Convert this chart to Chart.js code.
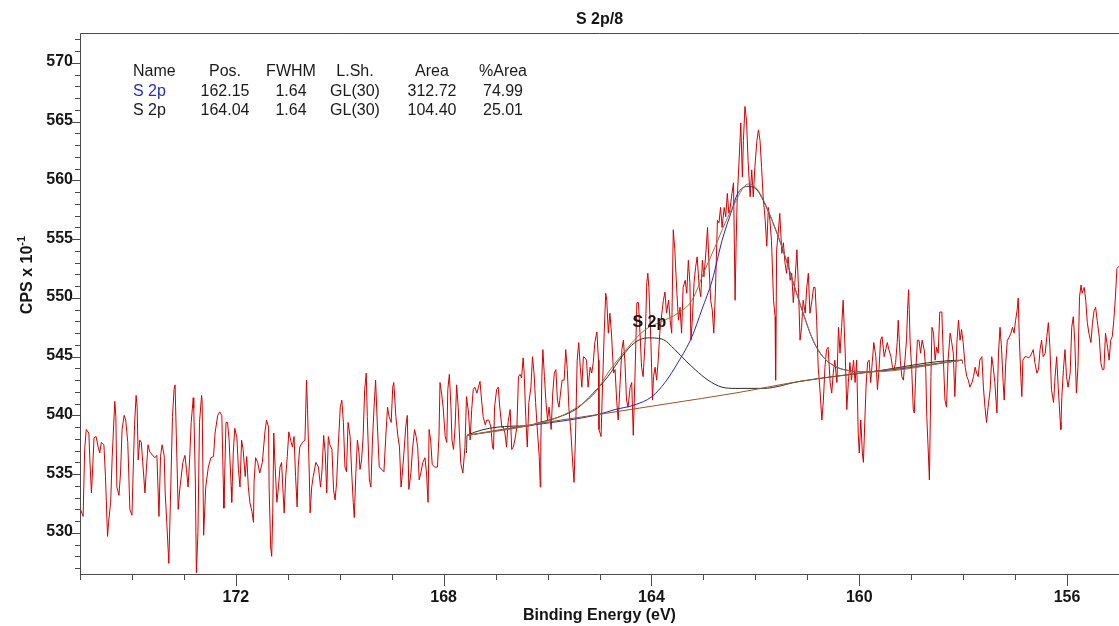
<!DOCTYPE html>
<html>
<head>
<meta charset="utf-8">
<title>S 2p/8</title>
<script src="https://cdn.jsdelivr.net/npm/chart.js@4.4.1/dist/chart.umd.min.js"></script>
<style>
  html, body { margin: 0; padding: 0; background: #fff; }
  #wrap { position: relative; width: 1119px; height: 626px; overflow: hidden; }
  #xps { display: block; }
  .cell { position: absolute; font: 16px "Liberation Sans", Arial, sans-serif; color: #1a1a1a;
          white-space: nowrap; line-height: 1; transform: translate(-50%, -50%); }
  .cell.first { transform: translate(0, -50%); }
  .cell.blue { color: #2b2bb8; }
</style>
</head>
<body>
<div id="wrap">
  <canvas id="xps" width="1119" height="626"></canvas>
  <div id="peakTable"></div>
</div>
<script>
// ── Data ───────────────────────────────────────────────────────────────────

// raw spectrum (eV, CPS x 10^-1)
const bindingEnergy = [
  174.99,174.94,174.91,174.88,174.83,174.81,174.78,174.76,174.73,174.69,
  174.65,174.62,174.59,174.54,174.51,174.47,174.45,174.41,174.38,174.33,
  174.31,174.29,174.25,174.22,174.19,174.15,174.12,174.08,174.04,174.00,
  173.97,173.95,173.92,173.90,173.88,173.85,173.82,173.75,173.72,173.69,
  173.66,173.56,173.52,173.48,173.45,173.42,173.38,173.36,173.33,173.29,
  173.26,173.22,173.19,173.17,173.15,173.11,173.08,173.02,172.98,172.95,
  172.92,172.89,172.86,172.82,172.81,172.78,172.76,172.73,172.70,172.66,
  172.65,172.62,172.58,
  172.53,172.48,172.43,172.40,172.35,172.31,172.27,172.24,172.23,172.19,
  172.16,172.13,172.09,172.08,172.05,172.02,171.98,171.95,171.92,171.89,
  171.86,171.82,171.79,171.76,171.73,171.69,171.66,171.65,171.62,171.58,
  171.54,171.49,171.44,171.41,171.37,171.36,171.33,171.31,171.29,171.27,
  171.25,171.21,171.18,171.15,171.12,171.09,171.07,171.04,171.01,170.98,
  170.94,170.91,170.88,170.85,170.82,170.80,170.77,170.72,170.67,170.64,
  170.62,170.59,170.57,170.54,170.51,170.46,170.41,170.37,170.34,170.31,
  170.28,170.25,170.22,170.19,
  170.15,170.12,170.09,170.06,170.03,169.99,169.96,169.93,169.90,169.87,
  169.84,169.80,169.77,169.74,169.72,169.69,169.66,169.63,169.61,169.58,
  169.55,169.52,169.49,169.47,169.43,169.40,169.37,169.34,169.31,169.28,
  169.24,169.19,169.15,169.11,169.08,169.05,169.01,168.98,168.96,168.92,
  168.88,168.85,168.82,168.80,168.76,168.73,168.70,168.67,168.63,168.60,
  168.56,168.53,168.50,168.47,168.44,168.40,168.36,168.33,168.30,168.28,
  168.25,168.22,168.17,168.12,168.09,168.07,168.04,168.01,167.97,167.94,
  167.92,167.89,167.86,167.84,167.81,167.78,167.75,167.72,
  167.67,167.63,167.59,167.56,167.52,167.49,167.46,167.43,167.40,167.36,
  167.33,167.30,167.27,167.24,167.20,167.17,167.13,167.09,167.06,167.04,
  167.02,166.98,166.95,166.92,166.88,166.85,166.82,166.79,166.76,166.72,
  166.69,166.66,166.63,166.59,166.56,166.53,166.50,166.47,166.45,166.42,
  166.39,166.36,166.32,166.29,166.26,166.23,166.20,166.16,166.14,166.13,
  166.11,166.09,166.06,166.03,166.00,165.97,165.93,165.90,165.87,165.84,
  165.81,165.78,165.75,165.72,165.68,165.65,165.62,165.59,165.55,165.52,
  165.49,165.46,165.43,165.40,165.37,165.34,165.31,165.28,165.25,165.22,
  165.18,165.15,165.12,165.09,165.05,165.02,
  165.01,164.97,164.95,164.91,164.88,164.86,164.83,164.80,164.77,164.73,
  164.70,164.67,164.64,164.61,164.57,164.54,164.51,164.48,164.45,164.41,
  164.38,164.35,164.32,164.28,164.25,164.22,164.19,164.16,164.12,164.09,
  164.07,164.05,164.01,163.98,163.96,163.93,163.90,163.87,163.84,163.80,
  163.77,163.74,163.71,163.67,163.64,163.61,163.58,163.55,163.51,163.48,
  163.45,163.42,163.39,163.35,163.32,163.29,163.26,163.24,163.21,163.18,
  163.15,163.12,163.08,163.05,163.02,162.99,162.96,162.92,162.89,162.86,
  162.83,162.80,162.77,162.73,162.70,162.67,162.64,162.60,162.57,162.54,
  162.51,
  162.49,162.45,162.42,162.39,162.37,162.35,162.31,162.28,162.25,162.23,
  162.20,162.17,162.14,162.10,162.07,162.04,162.01,161.97,161.94,161.91,
  161.88,161.85,161.81,161.78,161.75,161.72,161.69,161.65,161.62,161.61,
  161.59,161.56,161.53,161.49,161.46,161.43,161.40,161.37,161.33,161.30,
  161.27,161.24,161.20,161.17,161.14,161.11,161.08,161.04,161.01,160.98,
  160.95,160.91,160.88,160.85,160.82,160.79,160.76,160.72,160.69,160.66,
  160.63,160.60,160.56,160.53,160.50,160.47,160.43,160.40,160.37,160.34,
  160.31,160.27,160.24,160.21,160.18,160.15,160.11,160.08,160.05,160.02,
  160.00,159.97,159.94,159.92,
  159.87,159.84,159.81,159.78,159.75,159.72,159.68,159.65,159.62,159.59,
  159.56,159.52,159.49,159.46,159.43,159.39,159.36,159.33,159.30,159.27,
  159.25,159.21,159.18,159.15,159.12,159.09,159.07,159.05,159.02,158.99,
  158.96,158.94,158.91,158.88,158.85,158.82,158.79,158.75,158.72,158.70,
  158.67,158.65,158.62,158.60,158.57,158.54,158.51,158.48,158.45,158.41,
  158.38,158.35,158.32,158.29,158.25,158.22,158.19,158.16,158.12,158.09,
  158.06,158.03,158.00,157.96,157.93,157.90,157.87,157.83,157.80,157.77,
  157.74,157.71,157.68,157.64,157.61,157.58,157.55,157.52,157.48,157.45,
  157.42,157.39,
  157.35,157.32,157.29,157.26,157.23,157.21,157.18,157.15,157.12,157.08,
  157.05,157.02,156.99,156.96,156.94,156.92,156.89,156.87,156.85,156.81,
  156.78,156.75,156.71,156.68,156.65,156.62,156.58,156.55,156.52,156.49,
  156.46,156.42,156.39,156.36,156.33,156.30,156.26,156.23,156.20,156.17,
  156.13,156.12,156.10,156.07,156.04,156.01,155.98,155.94,155.91,155.88,
  155.85,155.82,155.79,155.76,155.73,155.71,155.67,155.64,155.61,155.58,
  155.54,155.51,155.48,155.45,155.42,155.38,155.35,155.32,155.29,155.26,
  155.22,155.19,155.16,155.13,155.10,155.07,155.04,155.00,
];
const counts = [
  532.0,531.4,537.1,538.8,538.5,536.2,533.4,535.1,538.1,538.2,
  537.3,536.8,537.7,537.5,534.8,529.7,530.9,532.6,536.5,541.2,
  539.9,533.9,533.2,535.1,538.8,540.0,539.6,537.7,532.0,531.5,
  536.2,539.2,541.7,540.7,536.2,537.9,537.7,533.4,535.6,537.5,
  536.9,536.4,536.6,531.4,536.5,537.5,536.6,533.4,530.9,527.4,
  532.6,539.9,542.2,542.6,539.0,532.0,533.7,536.0,536.6,535.4,
  533.9,536.2,539.4,541.5,540.6,534.5,526.6,530.0,539.4,541.7,
  541.3,529.8,533.9,
  535.6,536.4,536.5,538.5,540.0,540.3,540.0,533.9,532.1,539.4,
  539.4,537.9,533.9,532.6,536.8,538.9,538.1,535.4,533.9,537.9,
  537.1,534.8,536.5,533.9,532.6,531.8,530.9,534.3,536.4,536.0,
  535.1,536.0,538.6,539.6,539.0,533.9,528.8,528.0,531.7,538.5,
  536.2,532.6,533.9,535.6,536.0,533.4,531.7,534.8,536.5,538.6,
  537.8,537.3,538.2,534.8,532.2,535.6,537.3,537.7,537.9,543.0,
  540.5,535.6,531.7,533.9,534.8,536.0,535.6,533.9,535.4,538.3,
  536.8,533.4,538.2,537.5,
  537.1,533.7,532.8,534.3,537.3,540.7,541.3,539.4,535.6,535.2,
  539.4,538.2,535.1,532.6,531.3,535.1,537.9,536.8,535.4,536.2,
  538.2,542.2,543.6,539.9,534.5,533.9,537.9,540.7,543.0,539.6,
  535.6,535.4,535.2,538.5,540.7,539.9,539.4,542.4,542.8,539.9,
  538.2,537.3,533.9,534.8,537.1,539.0,540.0,533.7,535.1,537.1,
  538.8,538.2,537.3,534.5,535.1,536.0,536.4,535.1,532.6,538.8,
  537.9,535.8,535.6,535.6,538.2,542.8,541.9,540.7,538.2,537.7,
  542.2,543.5,540.7,537.9,537.1,539.0,542.6,540.7,
  535.9,535.1,537.3,541.6,540.2,537.9,540.5,542.2,542.4,541.9,
  542.4,542.9,541.3,539.9,539.2,539.6,539.6,539.0,537.3,537.1,
  540.7,542.2,542.4,540.7,539.0,539.0,538.5,537.3,539.4,540.5,
  537.1,537.3,537.9,539.0,543.3,543.5,543.2,544.9,543.6,539.9,
  537.3,541.1,542.4,545.0,543.6,541.1,539.0,536.5,533.9,537.3,
  543.3,545.6,543.3,541.1,539.6,540.7,538.8,541.9,543.6,543.9,
  541.3,540.7,541.9,543.0,543.0,545.6,543.9,540.7,538.5,536.2,
  534.3,538.5,544.7,546.2,544.1,542.4,545.0,544.9,544.7,542.4,
  544.1,543.6,544.5,546.2,547.1,544.7,
  538.8,538.2,541.3,547.0,550.4,549.8,547.0,548.7,547.0,543.6,
  543.9,541.3,539.6,542.2,545.6,546.4,544.5,541.3,540.7,542.4,
  542.8,538.3,542.8,549.6,549.6,547.0,544.1,543.3,546.4,551.3,
  552.1,550.9,546.2,541.3,543.3,544.1,543.0,544.7,547.0,548.7,
  549.8,550.5,548.7,549.8,548.1,547.0,555.8,554.1,550.4,548.1,
  549.2,547.0,550.9,551.5,550.4,553.2,551.3,546.4,548.4,551.3,
  552.6,553.5,550.9,550.1,553.2,551.8,553.4,556.0,552.6,549.8,
  549.0,547.0,550.4,556.6,556.4,557.7,556.0,557.7,556.9,558.9,
  557.2,
  557.5,558.9,559.8,549.8,554.7,558.3,562.0,564.9,560.3,563.4,
  566.3,565.1,561.7,558.6,560.9,558.6,561.1,563.4,564.3,563.4,
  561.1,558.6,556.6,554.4,557.7,556.6,554.9,549.8,548.4,543.0,
  554.1,555.5,557.2,553.8,554.7,553.0,552.1,553.5,551.5,552.1,
  549.6,551.3,554.1,550.9,546.4,547.5,549.8,548.7,550.9,552.1,
  548.7,549.8,550.9,550.9,548.1,544.1,542.4,539.6,541.3,544.1,
  545.6,545.8,542.8,541.9,543.6,544.7,542.8,547.5,545.3,547.5,
  549.8,545.3,540.5,542.8,544.5,543.0,544.7,542.8,544.7,538.5,
  536.8,539.6,536.8,536.0,
  542.4,544.5,544.7,542.8,544.5,546.2,545.0,542.2,543.9,546.4,
  546.7,545.0,545.6,546.2,545.6,545.0,544.1,543.9,544.5,546.2,
  548.1,544.7,543.3,543.0,544.7,546.4,549.0,550.7,546.2,543.9,
  540.5,540.2,543.9,546.4,546.4,545.3,546.4,545.6,543.9,539.9,
  536.8,534.5,543.3,547.5,547.0,544.7,545.8,545.3,548.8,548.8,
  544.7,541.3,540.7,544.7,547.0,546.2,545.3,541.6,546.2,548.1,
  546.4,547.3,546.2,544.1,543.3,543.0,542.4,542.8,543.3,544.1,
  543.6,543.3,544.7,545.0,542.4,540.7,539.4,540.7,542.2,545.0,
  544.1,542.8,
  540.2,545.3,547.5,545.6,542.8,541.3,544.5,546.4,546.6,547.0,
  547.5,547.0,548.1,549.0,550.0,546.7,543.3,541.6,544.7,545.0,
  545.0,544.9,545.0,545.3,545.6,544.5,543.6,543.9,545.6,546.4,
  545.0,545.3,546.7,547.9,545.8,542.2,541.1,543.3,545.0,542.4,
  539.4,538.8,541.6,543.9,545.6,543.3,542.4,543.6,547.5,548.4,
  546.2,541.9,544.1,550.1,551.1,550.4,550.9,549.8,547.9,547.0,
  546.2,547.9,548.9,549.2,548.1,546.7,544.5,543.9,543.9,547.0,
  545.8,544.7,546.4,546.7,548.1,550.0,552.5,552.7,
];

// fit: background, two S 2p components, envelope
const bgEnergy  = [167.55, 166.34, 164.99, 163.68, 162.39, 161.14, 159.79, 158.02];
const bgCounts  = [538.3, 539.2, 540.1, 541.0, 541.9, 542.9, 543.7, 544.7];

const p1Energy  = [167.55, 166.40, 165.09, 164.70, 164.32, 163.99, 163.74, 163.49, 163.22, 163.03,
                   162.83, 162.64, 162.45, 162.35, 162.14, 161.97, 161.85, 161.66, 161.47, 161.27,
                   161.08, 160.89, 160.70, 160.43, 160.18, 159.93, 159.54, 158.02];
const p1Counts  = [538.3, 539.1, 540.0, 540.5, 540.9, 541.6, 542.8, 544.5, 546.7, 549.0,
                   551.5, 554.9, 557.5, 558.8, 559.5, 559.2, 558.3, 556.4, 554.1, 551.3,
                   548.7, 546.4, 545.0, 544.1, 543.8, 543.7, 543.8, 544.7];

const p2Energy  = [167.56, 167.55, 166.40, 166.15, 165.76, 165.43, 165.12, 164.84, 164.57, 164.32,
                   164.07, 163.80, 163.55, 163.35, 163.16, 162.91, 162.64, 162.39, 161.85, 161.14,
                   159.79, 158.02, 158.01];
const p2Counts  = [536.8, 538.3, 539.1, 539.4, 539.9, 540.6, 541.9, 543.3, 545.0, 546.2,
                   546.6, 546.5, 545.6, 544.7, 543.9, 543.0, 542.4, 542.3, 542.3, 542.9,
                   543.7, 544.7, 544.4];

const envEnergy = [167.55, 166.40, 165.76, 165.43, 165.09, 164.84, 164.45, 164.12, 163.80, 163.49,
                   163.22, 162.97, 162.78, 162.58, 162.39, 162.26, 162.14, 161.99, 161.85, 161.66,
                   161.47, 161.27, 161.08, 160.89, 160.70, 160.43, 160.18, 159.93, 159.79, 158.02];
const envCounts = [538.3, 539.1, 539.9, 540.7, 541.9, 543.6, 545.8, 547.3, 548.0, 548.7,
                   549.8, 552.4, 554.3, 556.4, 558.1, 559.2, 559.7, 559.4, 558.4, 556.4,
                   554.1, 551.3, 548.7, 546.4, 545.0, 544.1, 543.8, 543.7, 543.7, 544.7];

// axes
const xMajorTicks = [172, 168, 164, 160, 156];
const yMajorTicks = [530, 535, 540, 545, 550, 555, 560, 565, 570];

// quantification table
const tableHeader   = ['Name', 'Pos.', 'FWHM', 'L.Sh.', 'Area', '%Area'];
const peakNames     = ['S 2p', 'S 2p'];
const peakPos       = ['162.15', '164.04'];
const peakFwhm      = ['1.64', '1.64'];
const peakLineShape = ['GL(30)', 'GL(30)'];
const peakArea      = ['312.72', '104.40'];
const peakPctArea   = ['74.99', '25.01'];

const peakLabel   = 'S 2p';
const peakLabelAt = [164.04, 547.9];

// ── Layout / style ─────────────────────────────────────────────────────────

const FONT   = '"Liberation Sans", Arial, sans-serif';
const INK    = '#151515';
const FRAME  = '#4a4a4a';
const COL_X  = [133, 225, 291, 355, 432, 503];
const ROW_Y  = [71, 90.5, 110];

const pairs = (xs, ys) => xs.map((x, i) => ({ x, y: ys[i] }));

// ── Table (HTML) ───────────────────────────────────────────────────────────

function renderTable() {
  const rows = [tableHeader];
  peakNames.forEach((n, i) => rows.push([n, peakPos[i], peakFwhm[i], peakLineShape[i], peakArea[i], peakPctArea[i]]));
  document.getElementById('peakTable').innerHTML = rows.map((row, r) =>
    row.map((txt, c) => {
      const cls = ['cell', c === 0 ? 'first' : '', r === 1 && c === 0 ? 'blue' : ''].join(' ');
      return `<div class="${cls}" style="left:${COL_X[c]}px;top:${ROW_Y[r]}px">${txt}</div>`;
    }).join('')
  ).join('');
}

// ── Frame, tick marks, peak label, y title ─────────────────────────────────

const xpsFrame = {
  id: 'xpsFrame',
  afterDraw(chart) {
    const { ctx, chartArea: a, scales: { x, y } } = chart;
    ctx.save();
    ctx.strokeStyle = FRAME;
    ctx.lineWidth = 1;
    ctx.beginPath();
    ctx.moveTo(a.left + 0.5, a.bottom + 0.5);
    ctx.lineTo(a.left + 0.5, a.top + 0.5);
    ctx.lineTo(a.right, a.top + 0.5);
    ctx.moveTo(a.left, a.bottom + 0.5);
    ctx.lineTo(a.right, a.bottom + 0.5);

    for (let v = Math.ceil(y.min); v <= Math.floor(y.max); v++) {
      const py = Math.round(y.getPixelForValue(v)) + 0.5;
      const len = v % 5 === 0 ? 9 : 5;
      ctx.moveTo(a.left, py);
      ctx.lineTo(a.left - len, py);
    }
    for (let v = Math.ceil(x.min); v <= Math.floor(x.max); v++) {
      const px = Math.round(x.getPixelForValue(v)) + 0.5;
      const len = v % 4 === 0 ? 12 : 6;
      ctx.moveTo(px, a.bottom);
      ctx.lineTo(px, a.bottom + len);
    }
    ctx.stroke();

    // component label
    ctx.fillStyle = INK;
    ctx.font = `bold 16px ${FONT}`;
    ctx.textAlign = 'center';
    ctx.textBaseline = 'middle';
    ctx.fillText(peakLabel, x.getPixelForValue(peakLabelAt[0]), y.getPixelForValue(peakLabelAt[1]));

    // y title with superscript
    ctx.translate(28, 275);
    ctx.rotate(-Math.PI / 2);
    const main = 'CPS x 10', sup = '-1';
    ctx.font = `bold 16px ${FONT}`;
    const wMain = ctx.measureText(main).width;
    ctx.font = `bold 11px ${FONT}`;
    const wSup = ctx.measureText(sup).width;
    const x0 = -(wMain + wSup) / 2;
    ctx.textAlign = 'left';
    ctx.font = `bold 16px ${FONT}`;
    ctx.fillText(main, x0, 0);
    ctx.font = `bold 11px ${FONT}`;
    ctx.fillText(sup, x0 + wMain, -6);
    ctx.restore();
  },
};

// ── Chart ──────────────────────────────────────────────────────────────────

renderTable();

const curve = (label, xs, ys, color, order) => ({
  label, data: pairs(xs, ys), borderColor: color, borderWidth: 1,
  pointRadius: 0, cubicInterpolationMode: 'monotone', order,
});

new Chart(document.getElementById('xps'), {
  type: 'line',
  data: {
    datasets: [
      curve('Envelope', envEnergy, envCounts, '#a8692f', 1),
      curve('Background', bgEnergy, bgCounts, '#9a5226', 2),
      curve('S 2p 162.15', p1Energy, p1Counts, '#2424c8', 3),
      curve('S 2p 164.04', p2Energy, p2Counts, '#2a2a2a', 4),
      {
        label: 'S 2p/8', data: pairs(bindingEnergy, counts),
        borderColor: '#d40000', borderWidth: 1, borderJoinStyle: 'round',
        pointRadius: 0, tension: 0, order: 5,
      },
    ],
  },
  options: {
    responsive: false, animation: false, devicePixelRatio: 1,
    layout: { padding: 0 },
    plugins: {
      legend: { display: false },
      tooltip: { enabled: false },
      title: {
        display: true, text: 'S 2p/8', fullSize: false, color: INK,
        font: { family: FONT, size: 16, weight: 'bold' },
        padding: { top: 10, bottom: 3.8 },
      },
    },
    scales: {
      x: {
        type: 'linear', reverse: true, min: 155, max: 175,
        grid: { display: false, drawTicks: false },
        border: { display: false },
        afterBuildTicks: s => { s.ticks = xMajorTicks.map(v => ({ value: v })); },
        afterFit: s => { s.height = 52; },
        ticks: {
          padding: 14, color: INK, maxRotation: 0, autoSkip: false,
          font: { family: FONT, size: 16, weight: 'bold' },
        },
        title: {
          display: true, text: 'Binding Energy (eV)', color: INK,
          font: { family: FONT, size: 16, weight: 'bold' },
          padding: { top: 0, bottom: 1 },
        },
      },
      y: {
        type: 'linear', min: 526.5, max: 572.55,
        grid: { display: false, drawTicks: false },
        border: { display: false },
        afterBuildTicks: s => { s.ticks = yMajorTicks.map(v => ({ value: v })); },
        afterFit: s => { s.width = 80; },
        ticks: {
          padding: 7, labelOffset: -1, color: INK,
          font: { family: FONT, size: 16, weight: 'bold' },
        },
      },
    },
  },
  plugins: [xpsFrame],
});
</script>
</body>
</html>
